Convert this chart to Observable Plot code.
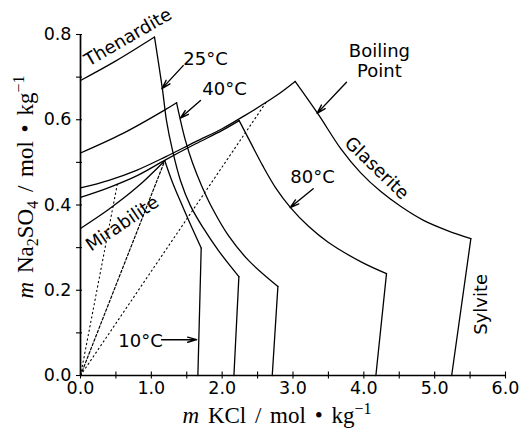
<!DOCTYPE html>
<html><head><meta charset="utf-8">
<script src="https://cdn.jsdelivr.net/npm/d3@7"></script>
<script src="https://cdn.jsdelivr.net/npm/@observablehq/plot@0.6"></script>
<style>body{margin:0;background:#fff}</style>
</head><body><div id="chart"></div>
<script>
// ---- data: m KCl (x) vs m Na2SO4 (y), mol/kg ----
const xTicks = [0,0.5,1,1.5,2,2.5,3,3.5,4,4.5,5,5.5,6];
const xLabels = [0,1,2,3,4,5,6];
const yTicks = [0,0.1,0.2,0.3,0.4,0.5,0.6,0.7,0.8];
const yLabels = [0,0.2,0.4,0.6,0.8];

// 10 °C
const sulfate10   = [[0,0.345],[0.4,0.39],[0.8,0.442],[1.19,0.504]];
const glaserite10 = [[1.19,0.504],[1.299,0.453],[1.412,0.408],[1.553,0.354],[1.704,0.299]];
const sylvite10   = [[1.704,0.299],[1.657,0]];
// 25 °C
const sulfate25   = [[0,0.692],[0.5,0.738],[1.045,0.794]];
const glaserite25 = [[1.045,0.794],[1.158,0.670],[1.214,0.598],[1.299,0.528],[1.412,0.457],[1.553,0.398],[1.737,0.345],[1.948,0.293],[2.236,0.232]];
const sylvite25   = [[2.236,0.232],[2.166,0]];
// 40 °C
const sulfate40   = [[0,0.522],[0.6,0.568],[1.18,0.622],[1.356,0.64]];
const glaserite40 = [[1.356,0.640],[1.412,0.598],[1.482,0.551],[1.581,0.499],[1.708,0.446],[1.878,0.387],[2.089,0.328],[2.372,0.270],[2.787,0.209]];
const sylvite40   = [[2.787,0.209],[2.707,0]];
// 80 °C
const sulfate80   = [[0,0.418],[0.4,0.441],[0.8,0.469],[1.2,0.506],[1.62,0.543],[2.0,0.575],[2.24,0.598]];
const glaserite80 = [[2.24,0.598],[2.4,0.547],[2.57,0.493],[2.753,0.441],[2.965,0.394],[3.219,0.350],[3.501,0.312],[3.968,0.266],[4.32,0.239]];
const sylvite80   = [[4.32,0.239],[4.17,0]];
// boiling point
const sulfateBp   = [[0,0.44],[0.4,0.458],[0.8,0.482],[1.2,0.513],[1.62,0.548],[2.0,0.579],[2.3,0.608],[2.75,0.655],[3.03,0.69]];
const glaseriteBp = [[3.03,0.690],[3.36,0.612],[3.671,0.533],[3.953,0.476],[4.236,0.432],[4.518,0.397],[4.843,0.364],[5.18,0.340],[5.511,0.321]];
const sylviteBp   = [[5.511,0.321],[5.24,0]];

// lines from the origin
const tieDotted1 = [[0,0],[0.52,0.449]];
const tieDashed  = [[0,0],[1.19,0.504]];
const tieDotted2 = [[0,0],[2.62,0.641]];

// annotations
const labelText  = ["Thenardite","25°C","40°C","Boiling\nPoint","Glaserite","80°C","Mirabilite","Sylvite","10°C"];
const labelX     = [0.665,1.765,2.033,4.22,4.19,3.275,0.583,5.647,0.847];
const labelY     = [0.795,0.743,0.674,0.739,0.488,0.467,0.358,0.167,0.082];
const labelAngle = [-30,0,0,0,44,0,-34,-90,0];
const arrowFrom  = [[1.45,0.727],[1.694,0.645],[3.755,0.688],[3.285,0.438],[1.144,0.084]];
const arrowTo    = [[1.15,0.673],[1.41,0.604],[3.34,0.615],[2.96,0.394],[1.64,0.084]];

// ---- build tables ----
const curves = [];
function addBranch(key, pts){ pts.forEach(([x,y]) => curves.push({key, x, y})); }
addBranch("s10",sulfate10); addBranch("g10",glaserite10);
addBranch("s25",sulfate25); addBranch("g25",glaserite25);
addBranch("s40",sulfate40); addBranch("g40",glaserite40);
addBranch("s80",sulfate80); addBranch("g80",glaserite80);
addBranch("sBp",sulfateBp); addBranch("gBp",glaseriteBp);
const straight = [];
[sylvite10,sylvite25,sylvite40,sylvite80,sylviteBp].forEach((pts,i)=>pts.forEach(([x,y])=>straight.push({key:i,x,y})));
const dotted = [];
[tieDotted1,tieDotted2].forEach((pts,i)=>pts.forEach(([x,y])=>dotted.push({key:i,x,y})));
const dashed = tieDashed.map(([x,y])=>({x,y}));
const labels = labelText.map((t,i)=>({t, x:labelX[i], y:labelY[i], r:labelAngle[i]}));
const arrows = arrowFrom.map((f,i)=>({x1:f[0],y1:f[1],x2:arrowTo[i][0],y2:arrowTo[i][1]}));

const fmt = d3.format(".1f");
const chart = Plot.plot({
  width: 522, height: 430,
  marginLeft: 80, marginRight: 17, marginTop: 34, marginBottom: 55,
  x: {domain: [0, 6], label: null},
  y: {domain: [0, 0.8], label: null},
  style: {fontFamily: "DejaVu Sans", fontSize: "17.5px", background: "white", color: "black"},
  marks: [
    Plot.line(dotted, {x: "x", y: "y", z: "key", stroke: "black", strokeWidth: 1.1, strokeDasharray: "1.3,3.2"}),
    Plot.line(dashed, {x: "x", y: "y", stroke: "black", strokeWidth: 1.2, strokeDasharray: "2.6,2"}),
    Plot.line(curves, {x: "x", y: "y", z: "key", curve: "catmull-rom", stroke: "black", strokeWidth: 1.3}),
    Plot.line(straight, {x: "x", y: "y", z: "key", stroke: "black", strokeWidth: 1.3}),
    Plot.ruleX([0], {stroke: "black", strokeWidth: 1.7}),
    Plot.ruleY([0], {stroke: "black", strokeWidth: 1.7}),
    Plot.axisX(xTicks, {tickSize: 7, dy: -3.5, fill: "none", label: null, strokeWidth: 1.1}),
    Plot.axisY(yTicks, {tickSize: 6, dx: 2, fill: "none", label: null, strokeWidth: 1.1}),
    Plot.axisX(xLabels, {tickSize: 0, tickPadding: 6, tickFormat: fmt, label: null, fontSize: 17.5}),
    Plot.axisY(yLabels, {tickSize: 0, tickPadding: 9, tickFormat: fmt, label: null, fontSize: 17.5}),
    Plot.arrow(arrows, {x1: "x1", y1: "y1", x2: "x2", y2: "y2", stroke: "black", strokeWidth: 1.4, headLength: 10, headAngle: 32}),
    Plot.text(labels, {x: "x", y: "y", text: "t", rotate: "r", fontSize: 18, lineHeight: 1.15, textAnchor: "middle", lineAnchor: "middle", fill: "black"})
  ]
});

// axis titles with sub/superscripts
const svg = d3.select(chart);
const serif = "'Liberation Serif','Times New Roman',serif";
function title(sel, parts){
  sel.attr("font-family", serif).attr("font-size", 23).attr("word-spacing", 3).attr("fill", "black").attr("text-anchor", "middle");
  parts.forEach(p => {
    const ts = sel.append("tspan").text(p.t);
    if (p.i) ts.attr("font-style", "italic");
    if (p.sub) ts.attr("font-size", 16).attr("dy", 5);
    if (p.sup) ts.attr("font-size", 16).attr("dy", -9);
    if (p.back) ts.attr("dy", p.back);
  });
}
title(svg.append("text").attr("x", 277).attr("y", 423), [
  {t:"m", i:true}, {t:" KCl / mol • kg"}, {t:"−1", sup:true}
]);
title(svg.append("text").attr("transform", "translate(33,187) rotate(-90)"), [
  {t:"m", i:true}, {t:" Na"}, {t:"2", sub:true}, {t:"SO", back:-5}, {t:"4", sub:true}, {t:" / mol • kg", back:-5}, {t:"−1", sup:true}
]);

document.getElementById("chart").append(chart);
</script>
</body></html>
